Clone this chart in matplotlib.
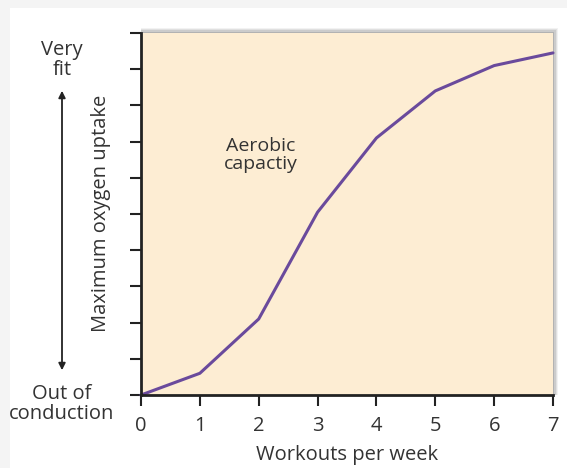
import matplotlib
matplotlib.use("Agg")
import matplotlib.pyplot as plt
from matplotlib.patches import Rectangle, FancyArrowPatch

plt.rcParams['font.family'] = ['Open Sans', 'DejaVu Sans']

# data
workouts = [0, 1, 2, 3, 4, 5, 6, 7]
uptake = [0.0, 0.6, 2.1, 5.05, 7.1, 8.4, 9.1, 9.45]
x_ticks = [0, 1, 2, 3, 4, 5, 6, 7]
y_ticks = list(range(11))

fig = plt.figure(figsize=(5.67, 4.68), dpi=100)
fig.patch.set_facecolor('#f4f4f4')
fig.patches.append(Rectangle((10 / 567, 0), 1, 1 - 8 / 468, transform=fig.transFigure,
                             facecolor='white', edgecolor='none', zorder=-10))

left, bottom = 141 / 567, 73 / 468
width, height = 412 / 567, 362 / 468

# soft shadow on the top and right of the plot area
for i, a in enumerate([0.05, 0.07, 0.09, 0.12]):
    off = (4 - i) * 1.3
    fig.patches.append(Rectangle((left, bottom), width + off / 567, height + off / 468,
                                 transform=fig.transFigure, facecolor='black',
                                 edgecolor='none', alpha=a, zorder=-5))

ax = fig.add_axes([left, bottom, width, height])
ax.set_facecolor('#fdedd3')
ax.plot(workouts, uptake, color='#6a4a9c', lw=2.2, solid_capstyle='round', clip_on=False)

ax.set_xlim(0, 7)
ax.set_ylim(0, 10)
ax.set_xticks(x_ticks)
ax.set_yticks(y_ticks)
ax.set_yticklabels([])
ax.tick_params(axis='both', direction='out', length=8, width=1.5, color='#222222')
ax.tick_params(axis='x', labelsize=14.5, pad=7, labelcolor='#333333')
for s in ['top', 'right']:
    ax.spines[s].set_visible(False)
for s in ['left', 'bottom']:
    ax.spines[s].set_linewidth(2)
    ax.spines[s].set_color('#222222')

fig.text((141 + 206) / 567, 1 - 455 / 468, 'Workouts per week', ha='center', va='center',
         fontsize=14.5, color='#333333')

ax.text(2.04, 6.63, 'Aerobic\ncapactiy', ha='center', va='center', fontsize=14,
        color='#333333', linespacing=1.05)

fig.text(101 / 567, 1 - 213 / 468, 'Maximum oxygen uptake', rotation=90, ha='center',
         va='center', fontsize=14.5, color='#333333')
fig.text(62 / 567, 1 - 60 / 468, 'Very\nfit', ha='center', va='center', fontsize=14.5,
         color='#333333', linespacing=1.05)
fig.text(62 / 567, 1 - 404 / 468, 'Out of\nconduction', ha='center', va='center',
         fontsize=14.5, color='#333333', linespacing=1.05)
fig.patches.append(FancyArrowPatch((62 / 567, 1 - 88 / 468), (62 / 567, 1 - 373 / 468),
                                   transform=fig.transFigure, arrowstyle='<|-|>',
                                   mutation_scale=10, lw=1.3, color='#222222'))

fig.savefig('out.png', dpi=100, facecolor=fig.get_facecolor())
